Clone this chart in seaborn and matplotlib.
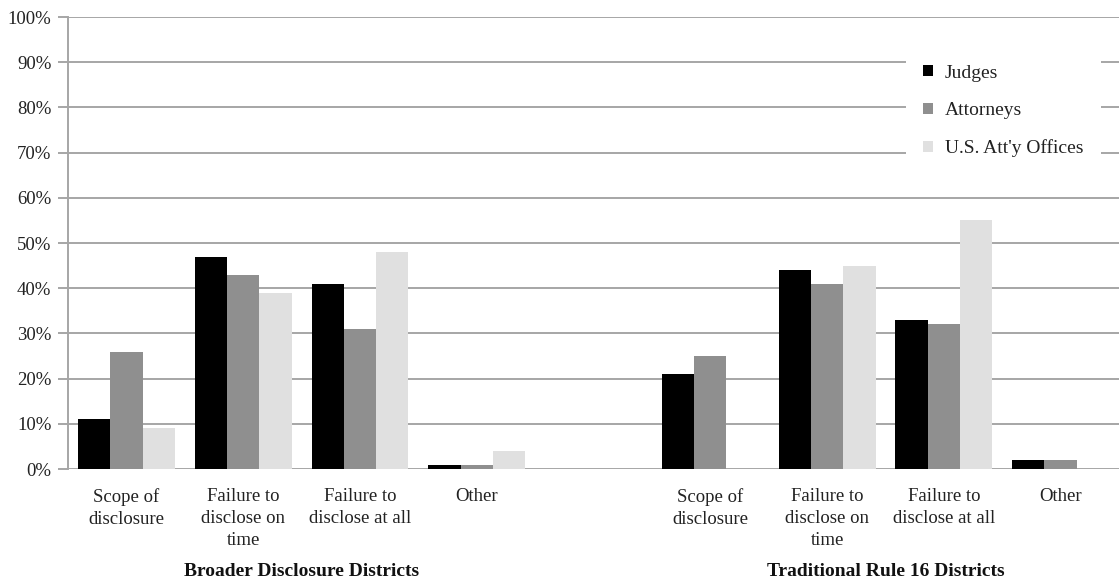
import numpy as np
import pandas as pd
import seaborn as sns
import matplotlib.pyplot as plt
from matplotlib.patches import Patch

# chart values (percent)
groups = ["Broader Disclosure Districts", "Traditional Rule 16 Districts"]
issues = ["Scope of\ndisclosure", "Failure to\ndisclose on\ntime", "Failure to\ndisclose at all", "Other"]
respondents = ["Judges", "Attorneys", "U.S. Att'y Offices"]
broader_vals = {
    "Judges": [11, 47, 41, 1],
    "Attorneys": [26, 43, 31, 1],
    "U.S. Att'y Offices": [9, 39, 48, 4],
}
traditional_vals = {
    "Judges": [21, 44, 33, 2],
    "Attorneys": [25, 41, 32, 2],
    "U.S. Att'y Offices": [0, 45, 55, 0],
}
colors = ["#000000", "#8f8f8f", "#e0e0e0"]

# long table, with a unique key per slot so both groups share the labels
rows = []
for g_idx, vals in enumerate([broader_vals, traditional_vals]):
    for i, issue in enumerate(issues):
        for r in respondents:
            rows.append({"slot": f"{g_idx}-{i}", "who": r, "pct": vals[r][i]})
df = pd.DataFrame(rows)
order = [f"0-{i}" for i in range(4)] + ["gap"] + [f"1-{i}" for i in range(4)]

sns.set_theme(style="white")
plt.rcParams["font.family"] = ["Liberation Serif", "DejaVu Serif"]

fig = plt.figure(figsize=(11.19, 5.83), dpi=100)
ax = fig.add_axes([0.0608, 0.1955, 0.9392, 0.7753])

sns.barplot(data=df, x="slot", y="pct", hue="who", order=order,
            hue_order=respondents, palette=colors, width=0.83,
            linewidth=0, saturation=1, legend=False, ax=ax)

ax.set_ylim(0, 100)
ax.set_xlim(-0.5, len(order) - 0.5)
ax.set_yticks(np.arange(0, 101, 10))
ax.set_yticklabels([f"{v}%" for v in range(0, 101, 10)], fontsize=13.5, color="#222222")
ax.yaxis.grid(True, color="#a6a6a6", linewidth=1.4)
ax.set_axisbelow(True)
ax.tick_params(axis="y", length=7, width=1.4, color="#a6a6a6", left=True, pad=5)
ax.tick_params(axis="x", length=0, pad=14)
for s in ["top", "right", "bottom"]:
    ax.spines[s].set_visible(False)
ax.spines["left"].set_color("#a6a6a6")
ax.spines["left"].set_linewidth(1.4)

ax.set_xticks(range(len(order)))
ax.set_xticklabels(issues + [""] + issues, fontsize=13.5, color="#222222",
                   va="top", linespacing=1.35)
ax.set_xlabel("")
ax.set_ylabel("")

# group titles under each block of four
for g_idx, name in enumerate(groups):
    center = 1.5 + g_idx * 5
    ax.text(center, -0.246, name, transform=ax.get_xaxis_transform(),
            ha="center", va="bottom", fontsize=14, fontweight="bold", color="#111111")

handles = [Patch(facecolor=c, edgecolor="none") for c in colors]
leg = ax.legend(handles, respondents, loc="upper right", bbox_to_anchor=(0.992, 0.955),
                frameon=True, fontsize=14, handlelength=0.5, handleheight=0.5,
                handletextpad=0.6, labelspacing=1.05, borderpad=0.9)
leg.get_frame().set_facecolor("white")
leg.get_frame().set_edgecolor("none")
leg.get_frame().set_alpha(1)
for t in leg.get_texts():
    t.set_color("#222222")

fig.savefig("out.png", dpi=100)
